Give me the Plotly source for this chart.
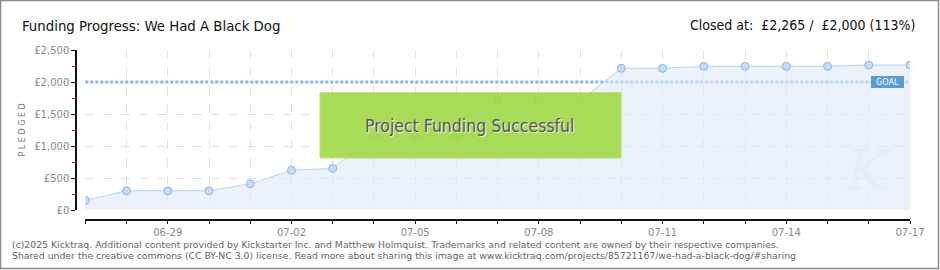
import plotly.graph_objects as go
import pandas as pd

# ---------------- data ----------------
dates = pd.date_range("2025-06-27", "2025-07-17", freq="D").strftime("%Y-%m-%d").tolist()
pledged = [150, 300, 300, 300, 410, 620, 650, 1155, 1155, 1155, 1710, 1710, 1710,
           2215, 2215, 2245, 2245, 2245, 2245, 2265, 2265]
goal = 2000
title_text = "Funding Progress: We Had A Black Dog"
closed_text = "Closed at:  £2,265 /  £2,000 (113%)"
footer_lines = [
    "(c)2025 Kicktraq. Additional content provided by Kickstarter Inc. and Matthew Holmquist. Trademarks and related content are owned by their respective companies.",
    "Shared under the creative commons (CC BY-NC 3.0) license. Read more about sharing this image at www.kicktraq.com/projects/85721167/we-had-a-black-dog/#sharing",
]

# ---------------- layout geometry (pixels) ----------------
W, H = 940, 270
ML, MR, MT, MB = 76, 30, 50, 50
PW, PH = W - ML - MR, H - MT - MB
X0_PX = 85.3   # first data point / start of x axis
Y0_PX = 210    # y = 0 level


def px(x):
    return (x - ML) / PW


def py(y):
    return (H - MB - y) / PH


TITLE_FONT = "DejaVu Sans Condensed"
SMALL_FONT = "DejaVu Sans, Verdana, sans-serif"

fig = go.Figure()

# goal line
fig.add_trace(go.Scatter(
    x=[dates[0], dates[-1]], y=[goal, goal], mode="lines",
    line=dict(color="#8db5e2", width=3, dash="3px,2px"),
    hoverinfo="skip", showlegend=False))

# pledged area
fig.add_trace(go.Scatter(
    x=dates, y=pledged, mode="lines+markers", fill="tozeroy",
    fillcolor="rgba(222,234,250,0.6)",
    line=dict(color="#b7d3f2", width=1),
    marker=dict(size=8, color="#c4ddf7", line=dict(color="#93b5de", width=1)),
    showlegend=False))

shapes = [
    dict(type="rect", xref="paper", yref="paper",
         x0=px(320), x1=px(621), y0=py(158), y1=py(92.5),
         fillcolor="rgba(160,216,70,0.9)", line=dict(color="#b8e46c", width=1),
         layer="above"),
    dict(type="rect", xref="paper", yref="paper",
         x0=px(871), x1=px(904), y0=py(88), y1=py(76),
         fillcolor="#5b9bd8", line=dict(width=0), layer="above"),
    dict(type="rect", xref="paper", yref="paper",
         x0=px(0.5), x1=px(938.5), y0=py(268.5), y1=py(0.5),
         fillcolor="rgba(0,0,0,0)", line=dict(color="#8a8a8a", width=1.5)),
]

annotations = [
    dict(text="K", xref="paper", yref="paper", x=px(868), y=py(170),
         xanchor="center", yanchor="middle", showarrow=False,
         font=dict(family="DejaVu Serif", size=56, style="italic", color="rgba(180,190,205,0.07)")),
    dict(text=title_text, xref="paper", yref="paper", x=px(20), y=py(25),
         xanchor="left", yanchor="middle", showarrow=False,
         font=dict(family=TITLE_FONT, size=14.8, color="#111")),
    dict(text=closed_text, xref="paper", yref="paper", x=px(917), y=py(25),
         xanchor="right", yanchor="middle", showarrow=False,
         font=dict(family=TITLE_FONT, size=14, color="#111")),
    dict(text="Project Funding Successful", xref="paper", yref="paper",
         x=px(469), y=py(126), xanchor="center", yanchor="middle", showarrow=False,
         font=dict(family=TITLE_FONT, size=17.5, color="#555",
                   shadow="1px 1px 0px #f4f4f4")),
    dict(text="GOAL", xref="paper", yref="paper", x=px(887.5), y=py(82),
         xanchor="center", yanchor="middle", showarrow=False,
         font=dict(family=TITLE_FONT, size=9, color="white")),
    dict(text="P L E D G E D", xref="paper", yref="paper", x=px(21.5), y=py(130),
         xanchor="center", yanchor="middle", showarrow=False, textangle=-90,
         font=dict(family=SMALL_FONT, size=8, color="#777")),
    dict(text=footer_lines[0], xref="paper", yref="paper", x=px(10), y=py(244),
         xanchor="left", yanchor="middle", showarrow=False,
         font=dict(family=SMALL_FONT, size=9.3, color="#666")),
    dict(text=footer_lines[1], xref="paper", yref="paper", x=px(10), y=py(256),
         xanchor="left", yanchor="middle", showarrow=False,
         font=dict(family=SMALL_FONT, size=9.3, color="#666")),
]

fig.update_layout(
    width=W, height=H,
    margin=dict(l=ML, r=MR, t=MT, b=MB, pad=0),
    paper_bgcolor="white", plot_bgcolor="white",
    shapes=shapes, annotations=annotations,
    xaxis=dict(
        type="date", range=[dates[0], dates[-1]],
        domain=[px(X0_PX), 1], anchor="free", position=0,
        tickmode="linear", tick0="2025-06-29", dtick=3 * 86400000,
        tickformat="%m-%d", ticks="outside", ticklen=3, tickcolor="#111",
        showline=True, linecolor="#111", linewidth=1.5,
        showgrid=True, gridcolor="#e2e2e2", griddash="dash", gridwidth=1,
        minor=dict(dtick=86400000, tick0=dates[0], ticks="outside", ticklen=3,
                   tickcolor="#111", showgrid=True, gridcolor="#e2e2e2", griddash="dash"),
        tickfont=dict(family=SMALL_FONT, size=10, color="#888"),
        zeroline=False, fixedrange=True),
    yaxis=dict(
        range=[0, 2500], domain=[py(Y0_PX), 1], anchor="free", position=0,
        tickmode="linear", tick0=0, dtick=500, tickprefix="£", tickformat=",d",
        ticks="outside", ticklen=4, tickcolor="#111",
        showline=True, linecolor="#111", linewidth=1.5,
        showgrid=True, gridcolor="#e2e2e2", griddash="dash", gridwidth=1,
        minor=dict(dtick=250, ticks="outside", ticklen=3, tickcolor="#d00000", showgrid=False),
        tickfont=dict(family=SMALL_FONT, size=10, color="#888"),
        zeroline=False, fixedrange=True),
)

fig.write_html("out.html")
